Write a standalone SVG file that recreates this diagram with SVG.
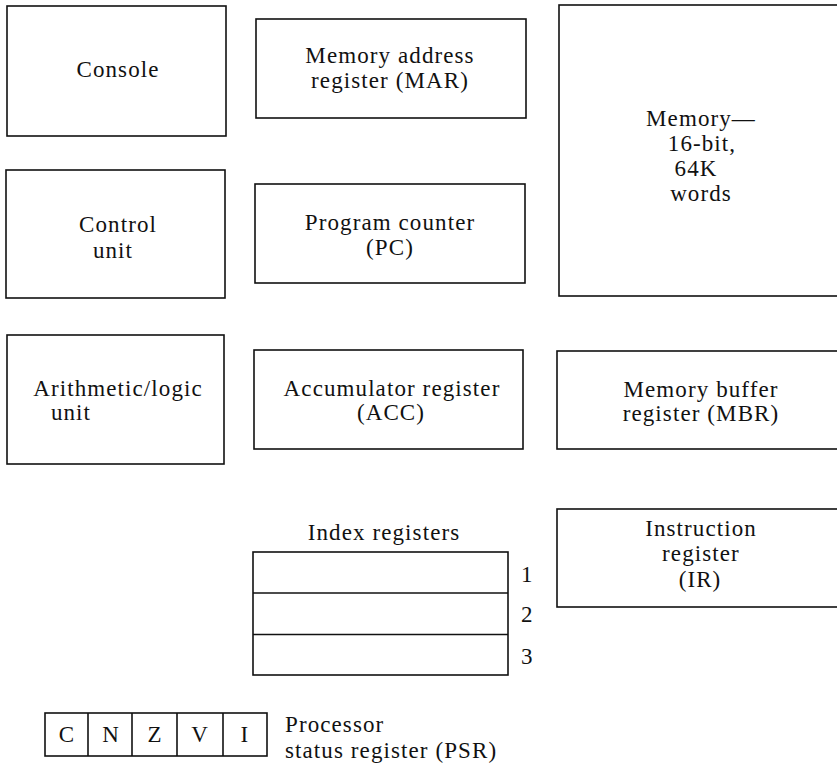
<svg xmlns="http://www.w3.org/2000/svg" width="837" height="774" viewBox="0 0 837 774">
<style>
.b{fill:none;stroke:#111;stroke-width:1.6}
text{font-family:"Liberation Serif","Times New Roman",serif;font-size:23px;fill:#111;letter-spacing:1.1px}
.m{text-anchor:middle}
</style>
<rect width="837" height="774" fill="#fff"/>
<g id="console"><rect class="b" x="7" y="6" width="219" height="130"/><text class="m" x="118" y="77">Console</text></g>
<g id="control"><rect class="b" x="6" y="170" width="219" height="128"/><text class="m" x="118" y="232">Control</text><text class="m" x="113" y="258">unit</text></g>
<g id="alu"><rect class="b" x="7" y="335" width="217" height="129"/><text class="m" x="118" y="396">Arithmetic/logic</text><text class="m" x="71" y="420">unit</text></g>
<g id="mar"><rect class="b" x="256" y="19" width="270" height="99"/><text class="m" x="390" y="63">Memory address</text><text class="m" x="390" y="88">register (MAR)</text></g>
<g id="pc"><rect class="b" x="255" y="184" width="270" height="99"/><text class="m" x="390" y="230">Program counter</text><text class="m" x="390" y="255">(PC)</text></g>
<g id="acc"><rect class="b" x="254" y="350" width="269" height="99"/><text class="m" x="392" y="396">Accumulator register</text><text class="m" x="391" y="420">(ACC)</text></g>
<g id="memory"><rect class="b" x="559" y="5" width="290" height="291"/><text class="m" x="701" y="126">Memory—</text><text class="m" x="702" y="151">16-bit,</text><text class="m" x="696" y="176">64K</text><text class="m" x="701" y="201">words</text></g>
<g id="mbr"><rect class="b" x="557" y="351" width="290" height="98"/><text class="m" x="701" y="397">Memory buffer</text><text class="m" x="701" y="421">register (MBR)</text></g>
<g id="ir"><rect class="b" x="557" y="509" width="290" height="98"/><text class="m" x="701" y="536">Instruction</text><text class="m" x="701" y="561">register</text><text class="m" x="700" y="587">(IR)</text></g>
<g id="index"><text class="m" x="384" y="540">Index registers</text>
<rect class="b" x="253" y="552" width="255" height="123"/><line class="b" x1="253" y1="593" x2="508" y2="593"/><line class="b" x1="253" y1="634.5" x2="508" y2="634.5"/>
<text x="521" y="582">1</text><text x="521" y="622">2</text><text x="521" y="664">3</text></g>
<g id="psr"><rect class="b" x="45" y="713" width="222" height="43"/>
<line class="b" x1="88" y1="713" x2="88" y2="756"/><line class="b" x1="132" y1="713" x2="132" y2="756"/><line class="b" x1="177" y1="713" x2="177" y2="756"/><line class="b" x1="223" y1="713" x2="223" y2="756"/>
<text class="m" x="67" y="742">C</text><text class="m" x="111" y="742">N</text><text class="m" x="155" y="742">Z</text><text class="m" x="200" y="742">V</text><text class="m" x="245" y="742">I</text>
<text x="285" y="732">Processor</text><text x="285" y="758">status register (PSR)</text></g>
<g id="connectors"></g>
</svg>
